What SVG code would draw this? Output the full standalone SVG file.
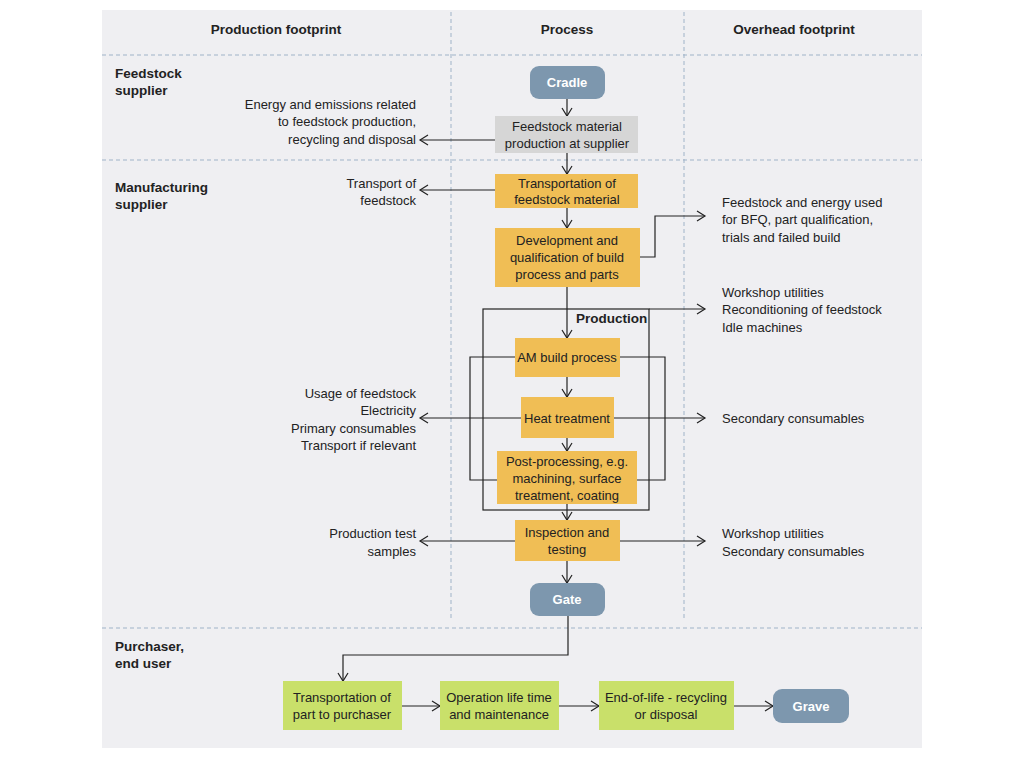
<svg xmlns="http://www.w3.org/2000/svg" width="1024" height="760" viewBox="0 0 1024 760">
<defs>
<marker id="a" markerWidth="12" markerHeight="12" refX="10" refY="6" orient="auto" markerUnits="userSpaceOnUse"><path d="M2,1 L10,6 L2,11" fill="none" stroke="#222" stroke-width="1.2"/></marker>
<style>
text{font-family:"Liberation Sans",Arial,sans-serif;font-size:13px;fill:#222}
.h{font-weight:bold;font-size:13.5px}
.c{text-anchor:middle}
.r{text-anchor:end}
.w{fill:#fff;font-weight:bold}
.dash{stroke:#9fb3c8;stroke-width:1;stroke-dasharray:4,3;fill:none}
.ln{stroke:#222;stroke-width:1.2;fill:none}
.ar{stroke:#222;stroke-width:1.2;fill:none;marker-end:url(#a)}
.y{fill:#f0be55}.g{fill:#d6d6d6}.gr{fill:#c9e06a}.b{fill:#7d97ae}
</style>
</defs>
<rect width="1024" height="760" fill="#fff"/>
<rect x="102" y="10" width="820" height="738" fill="#efeff2"/>
<g id="grid">
<line class="dash" x1="102" y1="55" x2="922" y2="55"/>
<line class="dash" x1="102" y1="160" x2="922" y2="160"/>
<line class="dash" x1="102" y1="628" x2="922" y2="628"/>
<line class="dash" x1="451" y1="12" x2="451" y2="618"/>
<line class="dash" x1="684" y1="12" x2="684" y2="618"/>
<text class="h c" x="276" y="34">Production footprint</text>
<text class="h c" x="567" y="34">Process</text>
<text class="h c" x="794" y="34">Overhead footprint</text>
<text class="h" x="115" y="78">Feedstock</text><text class="h" x="115" y="95">supplier</text>
<text class="h" x="115" y="192">Manufacturing</text><text class="h" x="115" y="209">supplier</text>
<text class="h" x="115" y="651">Purchaser,</text><text class="h" x="115" y="668">end user</text>
</g>
<g id="connectors">
<line class="ar" x1="567" y1="99" x2="567" y2="116"/>
<line class="ar" x1="567" y1="153" x2="567" y2="174"/>
<line class="ar" x1="567" y1="208" x2="567" y2="228"/>
<line class="ar" x1="567" y1="287" x2="567" y2="338"/>
<line class="ar" x1="567" y1="377" x2="567" y2="397"/>
<line class="ar" x1="567" y1="438" x2="567" y2="451"/>
<line class="ar" x1="567" y1="504" x2="567" y2="520"/>
<line class="ar" x1="567" y1="561" x2="567" y2="583"/>
<line class="ar" x1="495" y1="140" x2="420" y2="140"/>
<line class="ar" x1="495" y1="190" x2="420" y2="190"/>
<polyline class="ar" points="640,257 655,257 655,216 705,216"/>
<rect class="ln" x="483" y="309" width="166" height="201"/>
<line class="ar" x1="649" y1="309" x2="705" y2="309"/>
<polyline class="ln" points="515,357 470,357 470,480 497,480"/>
<polyline class="ln" points="620,357 665,357 665,480 637,480"/>
<line class="ar" x1="521" y1="418" x2="420" y2="418"/>
<line class="ar" x1="614" y1="418" x2="705" y2="418"/>
<line class="ar" x1="515" y1="541" x2="420" y2="541"/>
<line class="ar" x1="620" y1="541" x2="705" y2="541"/>
<polyline class="ar" points="568,616 568,655 343,655 343,681"/>
<line class="ar" x1="402" y1="706" x2="440" y2="706"/>
<line class="ar" x1="559" y1="706" x2="599" y2="706"/>
<line class="ar" x1="734" y1="706" x2="773" y2="706"/>
</g>
<g id="cradle"><rect class="b" x="530" y="66" width="75" height="33" rx="9"/><text class="w c" x="567" y="87">Cradle</text></g>
<g id="feedstock"><rect class="g" x="495" y="116" width="143" height="37"/><text class="c" x="567" y="131">Feedstock material</text><text class="c" x="567" y="148">production at supplier</text></g>
<g id="transport"><rect class="y" x="495" y="174" width="143" height="34"/><text class="c" x="567" y="188">Transportation of</text><text class="c" x="567" y="204">feedstock material</text></g>
<g id="dev"><rect class="y" x="495" y="228" width="145" height="59"/><text class="c" x="567" y="245">Development and</text><text class="c" x="567" y="262">qualification of build</text><text class="c" x="567" y="279">process and parts</text></g>
<g id="production"><text class="h" x="576" y="323">Production</text></g>
<g id="am"><rect class="y" x="515" y="338" width="105" height="39"/><text class="c" x="567" y="362">AM build process</text></g>
<g id="heat"><rect class="y" x="521" y="397" width="93" height="41"/><text class="c" x="567" y="423">Heat treatment</text></g>
<g id="post"><rect class="y" x="497" y="451" width="140" height="53"/><text class="c" x="567" y="466">Post-processing, e.g.</text><text class="c" x="567" y="483">machining, surface</text><text class="c" x="567" y="500">treatment, coating</text></g>
<g id="inspect"><rect class="y" x="515" y="520" width="105" height="41"/><text class="c" x="567" y="537">Inspection and</text><text class="c" x="567" y="554">testing</text></g>
<g id="gate"><rect class="b" x="530" y="583" width="75" height="33" rx="9"/><text class="w c" x="567" y="604">Gate</text></g>
<g id="tp"><rect class="gr" x="283" y="681" width="119" height="49"/><text class="c" x="342" y="702">Transportation of</text><text class="c" x="342" y="719">part to purchaser</text></g>
<g id="op"><rect class="gr" x="440" y="681" width="119" height="49"/><text class="c" x="499" y="702">Operation life time</text><text class="c" x="499" y="719">and maintenance</text></g>
<g id="eol"><rect class="gr" x="599" y="681" width="135" height="49"/><text class="c" x="666" y="702">End-of-life - recycling</text><text class="c" x="666" y="719">or disposal</text></g>
<g id="grave"><rect class="b" x="773" y="689" width="76" height="34" rx="9"/><text class="w c" x="811" y="711">Grave</text></g>
<g id="labels">
<text class="r" x="416" y="109">Energy and emissions related</text>
<text class="r" x="416" y="126">to feedstock production,</text>
<text class="r" x="416" y="144">recycling and disposal</text>
<text class="r" x="416" y="188">Transport of</text>
<text class="r" x="416" y="205">feedstock</text>
<text x="722" y="207">Feedstock and energy used</text>
<text x="722" y="224">for BFQ, part qualification,</text>
<text x="722" y="242">trials and failed build</text>
<text x="722" y="297">Workshop utilities</text>
<text x="722" y="314">Reconditioning of feedstock</text>
<text x="722" y="332">Idle machines</text>
<text class="r" x="416" y="398">Usage of feedstock</text>
<text class="r" x="416" y="415">Electricity</text>
<text class="r" x="416" y="433">Primary consumables</text>
<text class="r" x="416" y="450">Transport if relevant</text>
<text x="722" y="423">Secondary consumables</text>
<text class="r" x="416" y="538">Production test</text>
<text class="r" x="416" y="556">samples</text>
<text x="722" y="538">Workshop utilities</text>
<text x="722" y="556">Secondary consumables</text>
</g>
</svg>
